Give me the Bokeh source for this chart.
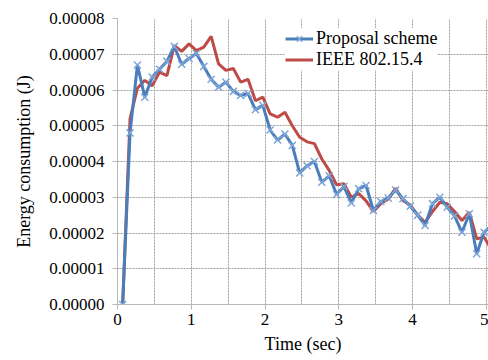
from bokeh.plotting import figure
from bokeh.models import Range1d, SingleIntervalTicker, PrintfTickFormatter, Legend, LegendItem
from bokeh.embed import file_html
from bokeh.resources import INLINE

time_s = [0.07, 0.17, 0.27, 0.37, 0.47, 0.57, 0.67, 0.77, 0.87, 0.97,
          1.07, 1.17, 1.27, 1.37, 1.47, 1.57, 1.67, 1.77, 1.87, 1.97,
          2.07, 2.17, 2.27, 2.37, 2.47, 2.57, 2.67, 2.77, 2.87, 2.97,
          3.07, 3.17, 3.27, 3.37, 3.47, 3.57, 3.67, 3.77, 3.87, 3.97,
          4.07, 4.17, 4.27, 4.37, 4.47, 4.57, 4.67, 4.77, 4.87, 4.97, 5.07]

proposal_scheme = [0.0, 4.80e-5, 6.70e-5, 5.80e-5, 6.36e-5, 6.58e-5, 6.80e-5, 7.22e-5, 6.72e-5, 6.88e-5,
                   7.02e-5, 6.66e-5, 6.30e-5, 6.08e-5, 6.22e-5, 5.96e-5, 5.85e-5, 5.90e-5, 5.45e-5, 5.57e-5,
                   4.88e-5, 4.60e-5, 4.77e-5, 4.45e-5, 3.68e-5, 3.88e-5, 4.00e-5, 3.42e-5, 3.60e-5, 3.08e-5,
                   3.30e-5, 2.84e-5, 3.24e-5, 3.33e-5, 2.63e-5, 2.88e-5, 2.98e-5, 3.20e-5, 2.96e-5, 2.75e-5,
                   2.50e-5, 2.21e-5, 2.82e-5, 3.00e-5, 2.72e-5, 2.48e-5, 2.02e-5, 2.54e-5, 1.42e-5, 2.02e-5, 2.20e-5]

ieee_802154 = [0.0, 5.20e-5, 6.05e-5, 6.27e-5, 6.12e-5, 6.50e-5, 6.40e-5, 7.25e-5, 7.08e-5, 7.29e-5,
               7.10e-5, 7.20e-5, 7.50e-5, 6.73e-5, 6.55e-5, 6.60e-5, 6.22e-5, 6.30e-5, 5.70e-5, 5.80e-5,
               5.33e-5, 5.24e-5, 5.38e-5, 5.00e-5, 4.68e-5, 4.55e-5, 4.50e-5, 4.07e-5, 3.75e-5, 3.35e-5,
               3.38e-5, 3.00e-5, 3.10e-5, 2.90e-5, 2.60e-5, 2.82e-5, 2.95e-5, 3.25e-5, 2.91e-5, 2.78e-5,
               2.50e-5, 2.30e-5, 2.60e-5, 2.86e-5, 2.82e-5, 2.60e-5, 2.35e-5, 2.58e-5, 1.84e-5, 1.88e-5, 1.55e-5]

FONT = "'Liberation Serif'"
TICK_FONT = "serif"
BLUE = "#4a7ebb"
RED = "#be4b48"

p = figure(width=488, height=360, output_backend="svg", toolbar_location=None,
           x_range=Range1d(0, 5.03), y_range=Range1d(0, 0.00008))
p.min_border_left = 117
p.min_border_right = 0
p.min_border_top = 18
p.min_border_bottom = 56
p.outline_line_color = None
p.background_fill_color = "white"
p.border_fill_color = "white"

# axes
p.xaxis.ticker = SingleIntervalTicker(interval=1)
p.yaxis.ticker = SingleIntervalTicker(interval=0.00001)
p.yaxis.formatter = PrintfTickFormatter(format="%.5f")
for ax in (p.xaxis[0], p.yaxis[0]):
    ax.axis_line_color = "#b8b8b8"
    ax.major_tick_line_color = "#b8b8b8"
    ax.major_tick_in = 0
    ax.major_tick_out = 5
    ax.minor_tick_line_color = None
    ax.major_label_text_font = TICK_FONT
    ax.major_label_text_font_size = "17px"
    ax.major_label_text_font_style = "normal"
    ax.major_label_text_color = "black"
    ax.axis_label_text_font = FONT
    ax.axis_label_text_font_size = "18px"
    ax.axis_label_text_font_style = "normal"
    ax.axis_label_text_color = "black"
p.xaxis.axis_label = "Time (sec)"
p.yaxis.axis_label = "Energy consumption (J)"
p.xaxis.major_label_standoff = 4
p.yaxis.major_label_standoff = 8
p.xaxis.axis_label_standoff = 6
p.yaxis.axis_label_standoff = 12

# grids
p.xgrid.ticker = SingleIntervalTicker(interval=0.5)
p.ygrid.ticker = SingleIntervalTicker(interval=0.00001)
for g in (p.xgrid[0], p.ygrid[0]):
    g.grid_line_color = "#a0a0a0"
    g.grid_line_dash = "2 1"
    g.grid_line_width = 1

r_ieee = p.line(time_s, ieee_802154, line_color=RED, line_width=3)
r_prop = p.line(time_s, proposal_scheme, line_color=BLUE, line_width=3)
r_mark = p.scatter(time_s, proposal_scheme, marker="x", size=10, line_color="#7ea6d8", line_width=1.5)

legend = Legend(items=[
    LegendItem(label="Proposal scheme", renderers=[r_prop, r_mark]),
    LegendItem(label="IEEE 802.15.4", renderers=[r_ieee]),
], location=(168, 234))
legend.label_text_font = FONT
legend.label_text_font_size = "18px"
legend.label_text_color = "black"
legend.glyph_width = 28
legend.glyph_height = 19
legend.label_height = 19
legend.label_standoff = 3
legend.spacing = 0
legend.padding = 2
legend.margin = 0
legend.border_line_color = None
legend.background_fill_color = "white"
legend.background_fill_alpha = 1
p.add_layout(legend, "center")

open("out.html", "w").write(file_html(p, INLINE))
